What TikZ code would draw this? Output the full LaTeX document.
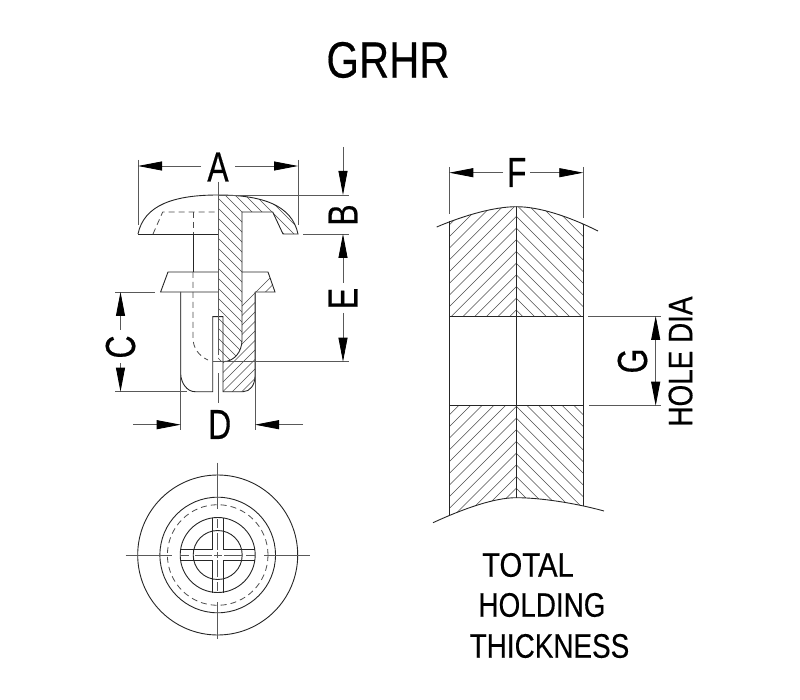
\documentclass[tikz,border=0pt]{standalone}
\usepackage{fontspec}
\setmainfont{Liberation Sans}
\newfontfamily\labelfont{Liberation Sans}[FakeBold=0.4]
\usetikzlibrary{arrows.meta}
\begin{document}
\begin{tikzpicture}[x=1pt, y=-1pt, inner sep=0mm,
		partline/.style={line width=0.9pt, black!85},
		thinline/.style={line width=0.8pt, black!65},
		hiddenline/.style={line width=0.8pt, black!70, dash pattern=on 6pt off 4pt},
		hatchline/.style={line width=0.55pt, black!70},
		dimend/.style={-{Triangle[length=24pt,width=9pt,black]}, line width=0.8pt, black!65},
		dimtip/.style={{Triangle[length=24pt,width=9pt,black]}-{Triangle[length=24pt,width=9pt,black]}, line width=0.8pt, black!65},
		titlestyle/.style={font=\labelfont\fontsize{51}{51}\selectfont, xscale=0.82},
		dimstyle/.style={font=\labelfont\fontsize{42}{42}\selectfont, xscale=0.76},
		notestyle/.style={font=\labelfont\fontsize{34}{34}\selectfont, xscale=0.82}]

	\useasboundingbox (0,0) rectangle (800,700);

	% title
	\node [titlestyle] (title) at (388,60) {GRHR};

	% hatching of the clip, side view
	\begin{scope}
		\clip (218,195) .. controls (262,195) and (292,205) .. (298,234) -- (283,234) -- (272.7,212) -- (242,212)
			-- (242,340) .. controls (242,352) and (234,361.7) .. (223,361.7) -- (218,361.7) -- cycle;
		\foreach \k in {0,...,27}
		{
			\draw[hatchline] (210,{110+10*\k}) -- +(100,100);
		}
	\end{scope}
	\begin{scope}
		\clip (242,272) -- (268,272) -- (275,292) -- (255,292) -- (255,376) .. controls (255,385) and (250,391.7) .. (243,391.7)
			-- (223,391.7) -- (223,361.7) .. controls (234,361.7) and (242,352) .. (242,340) -- cycle;
		\foreach \k in {0,...,18}
		{
			\draw[hatchline] (290,{258+9.5*\k}) -- +(-90,90);
		}
	\end{scope}

	% head
	\draw[partline] (138,234) .. controls (144,205) and (174,195) .. (218,195)
		.. controls (262,195) and (292,205) .. (298,234) -- (283,234) -- (272.7,212) -- (242,212);
	\draw[partline] (138,234) -- (218,234);
	\draw[hiddenline] (153,234) -- (162.7,212) -- (218,212);
	\draw[hiddenline] (193,212) -- (193,234);

	% shaft and body
	\draw[partline] (242,212) -- (242,340) .. controls (242,352) and (234,361.7) .. (223,361.7);
	\draw[partline] (193,234) -- (193,272);
	\draw[partline] (218,272) -- (168,272) -- (160.6,292) -- (218,292);
	\draw[partline] (242,272) -- (268,272) -- (275,292) -- (255,292);
	\draw[partline] (180.7,292) -- (180.7,374) .. controls (181,383) and (187,391.7) .. (195,391.7) -- (212.7,391.7) -- (212.7,316.7) -- (223,316.7) -- (223,391.7) -- (243,391.7)
		.. controls (250,391.7) and (255,385) .. (255,376) -- (255,292);
	\draw[hiddenline] (193,272) -- (193,338) .. controls (193,348) and (199,356) .. (208,360);

	% centre line
	\draw[thinline] (218,181.7) -- (218,355);
	\draw[thinline] (218,373) -- (218,403);

	% dimension A
	\coordinate (aleft) at (138,166);
	\coordinate (aright) at (298,166);
	\node (labela) at (218,167) [dimstyle] {A};
	\draw[thinline] (138,160) -- (138,225);
	\draw[thinline] (298,160) -- (298,225);
	\draw[dimend] (201,166) -- (aleft);
	\draw[dimend] (235,166) -- (aright);

	% dimension B
	\coordinate (btop) at (343,195);
	\coordinate (bbottom) at (343,234);
	\node (labelb) at (343,215) [rotate=90, dimstyle] {B};
	\draw[thinline] (218,195) -- (349,195);
	\draw[thinline] (303,234) -- (349,234);
	\draw[dimend] (343,147) -- (btop);
	\draw[dimend] (343,283) -- (bbottom);

	% dimension E
	\coordinate (ebottom) at (343,361.7);
	\node (labele) at (343,298.5) [rotate=90, dimstyle] {E};
	\draw[thinline] (213,361.7) -- (349,361.7);
	\draw[dimend] (343,313) -- (ebottom);

	% dimension C
	\coordinate (ctop) at (120.5,292);
	\coordinate (cbottom) at (120.5,391.7);
	\node (labelc) at (120.5,347) [rotate=90, dimstyle] {C};
	\draw[thinline] (115,292) -- (155,292);
	\draw[thinline] (115,391.7) -- (187,391.7);
	\draw[dimend] (120.5,330) -- (ctop);
	\draw[dimend] (120.5,363) -- (cbottom);

	% dimension D
	\coordinate (dleft) at (180.7,424.7);
	\coordinate (dright) at (255,424.7);
	\node (labeld) at (219.7,424.5) [dimstyle] {D};
	\draw[thinline] (180.7,292) -- (180.7,430);
	\draw[thinline] (255,292) -- (255,430);
	\draw[dimend] (133,424.7) -- (dleft);
	\draw[dimend] (303,424.7) -- (dright);

	% end view
	\foreach \r in {80,57.8,37.5,24.5}
	{
		\draw[partline] (217.7,555) circle (\r);
	}
	\draw[hiddenline] (217.7,555) circle (50.3);
	\draw[partline] (212.4,517.5) -- (212.4,549.7) -- (180.2,549.7);
	\draw[partline] (223,517.5) -- (223,549.7) -- (255.2,549.7);
	\draw[partline] (212.4,592.5) -- (212.4,560.3) -- (180.2,560.3);
	\draw[partline] (223,592.5) -- (223,560.3) -- (255.2,560.3);
	\foreach \a/\b in {462.7/508.5, 519/528, 533/550, 552/558, 560/577, 582/591, 602/639}
	{
		\draw[thinline] (217.7,\a) -- (217.7,\b);
	}
	\foreach \a/\b in {125.7/171.5, 180/189, 195/212, 214/222, 224/241.5, 246/255, 264/310}
	{
		\draw[thinline] (\a,555) -- (\b,555);
	}

	% hatching of the panel
	\begin{scope}
		\clip (449.3,200) rectangle (583.3,316);
		\clip (436.7,227) .. controls (465,215) and (495,206.7) .. (516.3,206.7)
			.. controls (540,206.7) and (570,217) .. (598,231) -- (598,316) -- (436.7,316) -- cycle;
		\foreach \k in {0,...,15}
		{
			\draw[hatchline] (516.3,{310-11.7*\k}) -- +(-150,150);
			\draw[hatchline] (516.3,{310-11.7*\k}) -- +(150,150);
		}
	\end{scope}
	\begin{scope}
		\clip (449.3,405.7) rectangle (583.3,530);
		\clip (433,522.7) .. controls (465,508) and (495,497.7) .. (516.3,497.7)
			.. controls (540,497.7) and (575,503) .. (604,511) -- (604,405.7) -- (433,405.7) -- cycle;
		\foreach \k in {0,...,14}
		{
			\draw[hatchline] (516.3,{488.3-11.7*\k}) -- +(-150,150);
			\draw[hatchline] (516.3,{488.3-11.7*\k}) -- +(150,150);
		}
	\end{scope}

	% panel
	\draw[partline] (436.7,227) .. controls (465,215) and (495,206.7) .. (516.3,206.7)
		.. controls (540,206.7) and (570,217) .. (598,231);
	\draw[partline] (433,522.7) .. controls (465,508) and (495,497.7) .. (516.3,497.7)
		.. controls (540,497.7) and (575,503) .. (604,511);
	\draw[partline] (449.3,221) -- (449.3,515);
	\draw[partline] (583.3,224) -- (583.3,506);
	\draw[partline] (516.3,206.7) -- (516.3,497.7);
	\draw[partline] (449.3,316) -- (583.3,316);
	\draw[partline] (449.3,405.7) -- (583.3,405.7);

	% dimension F
	\coordinate (fleft) at (449.3,172.7);
	\coordinate (fright) at (583.3,172.7);
	\node (labelf) at (516.7,172.5) [dimstyle] {F};
	\draw[thinline] (449.3,167) -- (449.3,214);
	\draw[thinline] (583.3,167) -- (583.3,218);
	\draw[dimend] (503,172.7) -- (fleft);
	\draw[dimend] (530,172.7) -- (fright);

	% dimension G
	\coordinate (gtop) at (655.7,316);
	\coordinate (gbottom) at (655.7,405.7);
	\node (labelg) at (632.5,361) [rotate=90, dimstyle] {G};
	\node (labelhole) at (680.5,361.5) [rotate=90, notestyle] {HOLE DIA};
	\draw[thinline] (588,316) -- (661,316);
	\draw[thinline] (589,405.7) -- (661,405.7);
	\draw[dimtip] (gtop) -- (gbottom);

	% note
	\node (notetotal) at (528,565) [notestyle, xscale=1.05] {TOTAL};
	\node (noteholding) at (542,605) [notestyle] {HOLDING};
	\node (notethick) at (549.5,646) [notestyle] {THICKNESS};

\end{tikzpicture}
\end{document}
